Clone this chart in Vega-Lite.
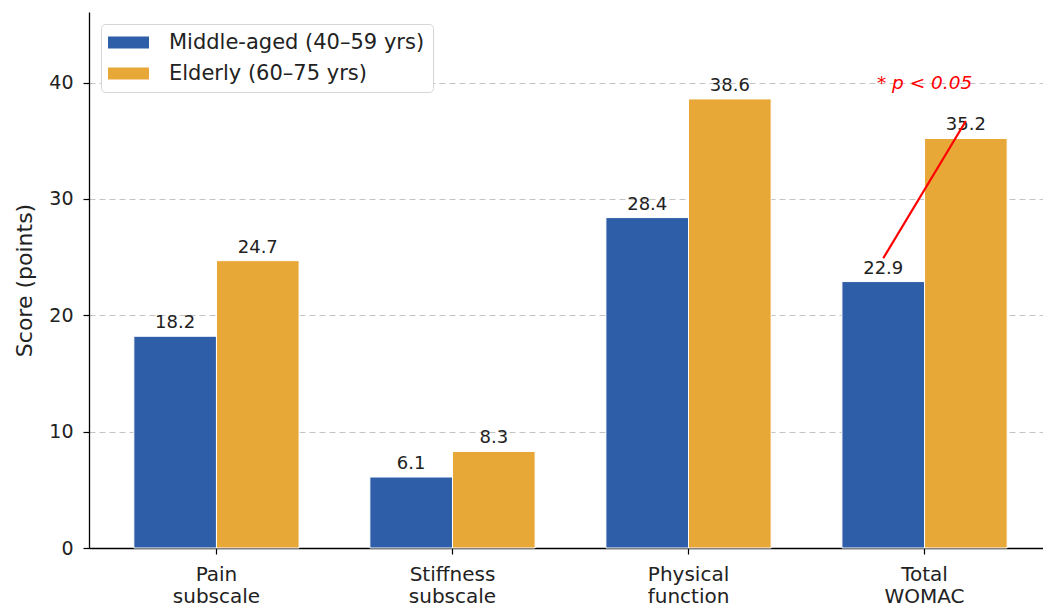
{
  "$schema": "https://vega.github.io/schema/vega-lite/v6.json",
  "width": 963,
  "height": 536,
  "autosize": {"type": "none"},
  "padding": {"left": 89, "top": 12, "right": 0, "bottom": 58},
  "background": "white",
  "config": {"font": "DejaVu Sans", "view": {"stroke": null}},
  "datasets": {
    "scores": [
      {"category": "Pain subscale", "group": "Middle-aged (40–59 yrs)", "score": 18.2},
      {"category": "Pain subscale", "group": "Elderly (60–75 yrs)", "score": 24.7},
      {"category": "Stiffness subscale", "group": "Middle-aged (40–59 yrs)", "score": 6.1},
      {"category": "Stiffness subscale", "group": "Elderly (60–75 yrs)", "score": 8.3},
      {"category": "Physical function", "group": "Middle-aged (40–59 yrs)", "score": 28.4},
      {"category": "Physical function", "group": "Elderly (60–75 yrs)", "score": 38.6},
      {"category": "Total WOMAC", "group": "Middle-aged (40–59 yrs)", "score": 22.9},
      {"category": "Total WOMAC", "group": "Elderly (60–75 yrs)", "score": 35.2}
    ],
    "sig": [
      {"category": "Total WOMAC", "group": "Middle-aged (40–59 yrs)", "score": 24.9},
      {"category": "Total WOMAC", "group": "Elderly (60–75 yrs)", "score": 36.7}
    ],
    "note": [
      {"category": "Total WOMAC", "score": 40, "label": "* p < 0.05"}
    ]
  },
  "encoding": {
    "x": {
      "field": "category",
      "type": "nominal",
      "scale": {
        "domain": ["Pain subscale", "Stiffness subscale", "Physical function", "Total WOMAC"],
        "paddingInner": 0.3,
        "paddingOuter": 0.19
      },
      "axis": {
        "title": null,
        "labelAngle": 0,
        "labelExpr": "split(datum.label, ' ')",
        "labelFontSize": 20,
        "labelLineHeight": 22,
        "labelColor": "#222222",
        "labelPadding": 10,
        "labelBaseline": "top",
        "tickSize": 6,
        "tickColor": "black",
        "tickWidth": 1.2,
        "domainColor": "black",
        "domainWidth": 1.3,
        "grid": false
      }
    },
    "y": {
      "field": "score",
      "type": "quantitative",
      "scale": {"domain": [0, 46.07], "nice": false, "zero": true},
      "axis": {
        "title": "Score (points)",
        "titleFontSize": 22,
        "titleFontWeight": "normal",
        "titleColor": "#222222",
        "titlePadding": 12,
        "values": [0, 10, 20, 30, 40],
        "labelFontSize": 19,
        "labelColor": "#222222",
        "labelPadding": 10,
        "tickSize": 6,
        "tickColor": "black",
        "tickWidth": 1.2,
        "domainColor": "black",
        "domainWidth": 1.3,
        "grid": true,
        "gridColor": "#c4c4c4",
        "gridDash": [6, 4],
        "gridWidth": 1
      }
    }
  },
  "layer": [
    {
      "data": {"name": "scores"},
      "mark": {"type": "bar", "stroke": "white", "strokeWidth": 1},
      "encoding": {
        "xOffset": {
          "field": "group",
          "type": "nominal",
          "scale": {"domain": ["Middle-aged (40–59 yrs)", "Elderly (60–75 yrs)"], "paddingInner": 0, "paddingOuter": 0}
        },
        "color": {
          "field": "group",
          "type": "nominal",
          "scale": {"domain": ["Middle-aged (40–59 yrs)", "Elderly (60–75 yrs)"], "range": ["#2E5EA8", "#E8A838"]},
          "legend": {
            "title": null,
            "orient": "none",
            "legendX": 12,
            "legendY": 12,
            "symbolType": "M-1.15,-0.6H2.95V0.6H-1.15Z",
            "symbolSize": 400,
            "symbolStrokeWidth": 0,
            "labelFontSize": 21,
            "labelColor": "#222222",
            "labelOffset": 39,
            "labelLimit": 0,
            "rowPadding": 9,
            "padding": 8,
            "fillColor": "white",
            "strokeColor": "#d6d6d6",
            "cornerRadius": 4
          }
        }
      }
    },
    {
      "data": {"name": "scores"},
      "mark": {"type": "text", "baseline": "alphabetic", "dy": -8, "fontSize": 18, "color": "#222222"},
      "encoding": {
        "xOffset": {"field": "group", "type": "nominal"},
        "text": {"field": "score", "type": "quantitative", "format": ".1f"}
      }
    },
    {
      "data": {"name": "sig"},
      "mark": {"type": "line", "color": "red", "strokeWidth": 2.2},
      "encoding": {
        "xOffset": {"field": "group", "type": "nominal"}
      }
    },
    {
      "data": {"name": "note"},
      "mark": {"type": "text", "color": "red", "fontStyle": "italic", "fontSize": 18.5, "baseline": "middle"},
      "encoding": {
        "text": {"field": "label", "type": "nominal"}
      }
    }
  ]
}
